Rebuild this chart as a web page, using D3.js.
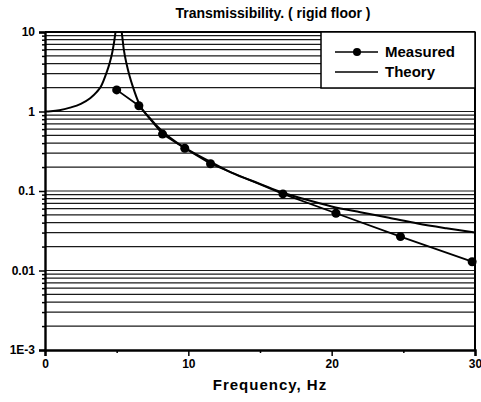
<!DOCTYPE html>
<html>
<head>
<meta charset="utf-8">
<script src="https://cdn.jsdelivr.net/npm/d3@7"></script>
<style>
  body { margin: 0; background: #fff; }
  text { font-family: "Liberation Sans", Arial, sans-serif; font-weight: bold; fill: #000; }
</style>
</head>
<body>
<div id="chart"></div>
<script>
// measured points
var measFreq = [5.0, 6.55, 8.2, 9.75, 11.55, 16.6, 20.3, 24.8, 29.8];
var measT    = [1.87, 1.18, 0.52, 0.345, 0.22, 0.092, 0.0525, 0.0267, 0.0129];

// theory curve (goes above 10 at resonance, clipped)
var theoFreq = [0, 0.4, 1.0, 1.75, 2.5, 3.15, 3.6, 3.9, 4.3, 4.5, 4.7, 4.9, 5.0, 5.25, 5.37, 5.5, 5.7, 5.9, 6.15, 6.6, 7.3, 8.2, 9.0, 10, 11.5, 13, 15, 16.6, 18, 20, 22, 24, 26, 28, 30];
var theoT    = [1.0, 1.01, 1.04, 1.12, 1.25, 1.47, 1.75, 2.06, 3.1, 4.0, 5.6, 9.4, 14, 14, 9.4, 6.0, 3.9, 2.8, 2.0, 1.22, 0.83, 0.56, 0.43, 0.33, 0.235, 0.17, 0.123, 0.095, 0.08, 0.064, 0.054, 0.046, 0.039, 0.034, 0.030];

var xTicks = [0, 10, 20, 30];
var xMinor = [5, 15, 25];
var yTicks = [10, 1, 0.1, 0.01, 0.001];
var yTickLabels = ["10", "1", "0.1", "0.01", "1E-3"];

var W = 481, H = 402;
var margin = {top: 32, right: 6, bottom: 52, left: 45};
var width = W - margin.left - margin.right,
    height = H - margin.top - margin.bottom;

var svg = d3.select("#chart").append("svg")
    .attr("width", W)
    .attr("height", H);

var x = d3.scaleLinear().domain([0, 30]).range([0, width]);
var y = d3.scaleLog().domain([0.001, 10]).range([height, 0]);

var g = svg.append("g")
    .attr("transform", "translate(" + margin.left + "," + margin.top + ")");

g.append("clipPath").attr("id", "clip")
  .append("rect").attr("width", width).attr("height", height);

// minor log values for grid
var minorVals = [];
[0.001, 0.01, 0.1, 1].forEach(function(d) {
  for (var k = 2; k <= 9; k++) minorVals.push(d * k);
});

// horizontal grid lines
g.selectAll(".grid")
    .data(minorVals.concat([0.01, 0.1, 1]))
  .enter().append("line")
    .attr("class", "grid")
    .attr("x1", 0).attr("x2", width)
    .attr("y1", function(d) { return y(d); })
    .attr("y2", function(d) { return y(d); })
    .attr("stroke", "#1a1a1a")
    .attr("stroke-width", 1.2);

// y axis
var yAxis = d3.axisLeft(y)
    .tickValues(yTicks)
    .tickFormat(function(d, i) { return yTickLabels[i]; })
    .tickSize(6);
var ya = g.append("g").call(yAxis);
ya.select(".domain").attr("stroke-width", 2.4);
ya.selectAll("line").attr("stroke-width", 1.5);
ya.selectAll("text").style("font-size", "12px").attr("x", -10);

g.append("g").call(d3.axisLeft(y).tickValues(minorVals).tickFormat("").tickSize(3))
  .call(function(s) { s.select(".domain").remove(); s.selectAll("line").attr("stroke-width", 1.5); });

// x axis
var xAxis = d3.axisBottom(x).tickValues(xTicks).tickFormat(d3.format("d")).tickSize(6);
var xa = g.append("g").attr("transform", "translate(0," + height + ")").call(xAxis);
xa.select(".domain").attr("stroke-width", 2.4);
xa.selectAll("line").attr("stroke-width", 1.5);
xa.selectAll("text").style("font-size", "12px").attr("y", 9);

g.append("g").attr("transform", "translate(0," + height + ")")
  .call(d3.axisBottom(x).tickValues(xMinor).tickFormat("").tickSize(3))
  .call(function(s) { s.select(".domain").remove(); s.selectAll("line").attr("stroke-width", 1.5); });

// frame top/right
g.append("line").attr("x1", 0).attr("x2", width).attr("y1", 0).attr("y2", 0)
  .attr("stroke", "#000").attr("stroke-width", 2);
g.append("line").attr("x1", width).attr("x2", width).attr("y1", 0).attr("y2", height)
  .attr("stroke", "#000").attr("stroke-width", 2);

// theory curve
var theoData = theoFreq.map(function(f, i) { return {f: f, t: theoT[i]}; });
var line = d3.line()
    .x(function(d) { return x(d.f); })
    .y(function(d) { return y(d.t); })
    .curve(d3.curveMonotoneX);

g.append("path")
    .datum(theoData)
    .attr("clip-path", "url(#clip)")
    .attr("fill", "none")
    .attr("stroke", "#000")
    .attr("stroke-width", 2)
    .attr("d", line);

// measured
var measData = measFreq.map(function(f, i) { return {f: f, t: measT[i]}; });
g.append("path")
    .datum(measData)
    .attr("fill", "none")
    .attr("stroke", "#000")
    .attr("stroke-width", 1.8)
    .attr("d", d3.line().x(function(d) { return x(d.f); }).y(function(d) { return y(d.t); }));

g.selectAll(".dot")
    .data(measData)
  .enter().append("circle")
    .attr("class", "dot")
    .attr("cx", function(d) { return x(d.f); })
    .attr("cy", function(d) { return y(d.t); })
    .attr("r", 4.5)
    .attr("fill", "#000");

// legend
var lg = svg.append("g").attr("transform", "translate(321,32)");
lg.append("rect").attr("width", 154).attr("height", 56)
  .attr("fill", "#fff").attr("stroke", "#000").attr("stroke-width", 1.5);
lg.append("line").attr("x1", 14).attr("x2", 57).attr("y1", 20).attr("y2", 20)
  .attr("stroke", "#000").attr("stroke-width", 1.5);
lg.append("circle").attr("cx", 36).attr("cy", 20).attr("r", 4).attr("fill", "#000");
lg.append("text").attr("x", 64).attr("y", 25).style("font-size", "15px").text("Measured");
lg.append("line").attr("x1", 14).attr("x2", 57).attr("y1", 40).attr("y2", 40)
  .attr("stroke", "#000").attr("stroke-width", 1.5);
lg.append("text").attr("x", 64).attr("y", 45).style("font-size", "15px").text("Theory");

// title and axis label
svg.append("text")
    .attr("x", 273).attr("y", 18)
    .attr("text-anchor", "middle")
    .style("font-size", "14px")
    .text("Transmissibility. ( rigid floor )");

svg.append("text")
    .attr("x", 270).attr("y", 390)
    .attr("text-anchor", "middle")
    .style("font-size", "15px")
    .style("letter-spacing", "1px")
    .text("Frequency, Hz");
</script>
</body>
</html>
